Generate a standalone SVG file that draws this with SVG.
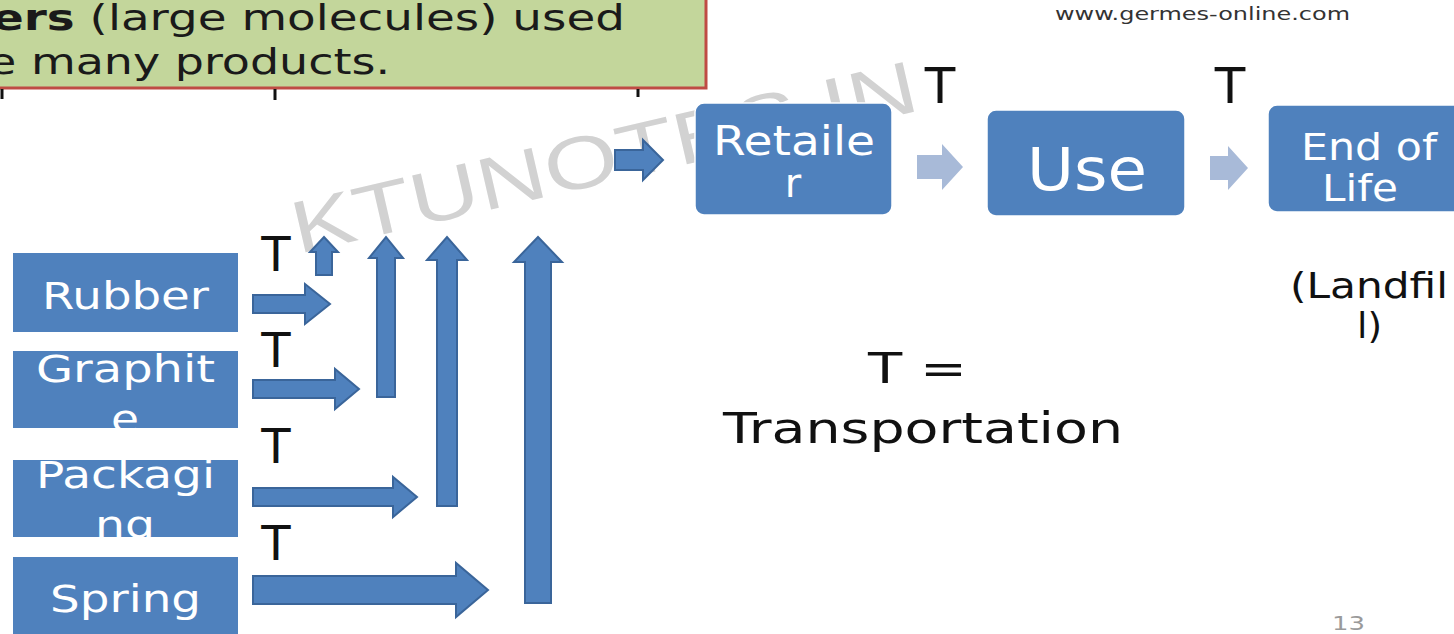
<svg xmlns="http://www.w3.org/2000/svg" width="1454" height="634" viewBox="0 0 1454 634">
<style>
.t{font-family:"DejaVu Sans","Liberation Sans",sans-serif}
.w{fill:#ffffff}
.k{fill:#111111}
.box{fill:#4f81bd}
.sbox{fill:#4f81bd;stroke:#ffffff;stroke-width:1.5}
.arr{fill:#4f81bd;stroke:#3a659a;stroke-width:2;stroke-linejoin:miter}
.larr{fill:#a8bad8}
.tick{stroke:#111111;stroke-width:3}
</style>
<rect width="1454" height="634" fill="#ffffff"/>
<g id="watermark">
<text x="0" y="0" font-family="'Liberation Sans',sans-serif" font-size="74" fill="#d2d2d2" textLength="640" lengthAdjust="spacingAndGlyphs" transform="translate(298 254) rotate(-13)">KTUNOTES.IN</text>
</g>
<g id="header">
<rect x="-6" y="-6" width="712" height="94" fill="#c3d69b" stroke="#bf4b44" stroke-width="3"/>
<text class="t" x="-8" y="30" font-size="36" fill="#1a1a1a" textLength="633" lengthAdjust="spacingAndGlyphs"><tspan font-weight="bold">ers</tspan> (large molecules) used</text>
<text class="t" x="-12" y="74" font-size="36" fill="#1a1a1a" textLength="402" lengthAdjust="spacingAndGlyphs">e many products.</text>
<line class="tick" x1="2" y1="89" x2="2" y2="99"/>
<line class="tick" x1="275" y1="89" x2="275" y2="100"/>
<line class="tick" x1="638" y1="89" x2="638" y2="97"/>
</g>
<text class="t" x="1055" y="20" font-size="18" fill="#333333" textLength="295" lengthAdjust="spacingAndGlyphs">www.germes-online.com</text>
<g id="connectors">
<path class="arr" d="M253,295 L305,295 L305,284 L330,304 L305,324 L305,313 L253,313 Z"/>
<path class="arr" d="M253,380 L335,380 L335,369 L359,389 L335,409 L335,398 L253,398 Z"/>
<path class="arr" d="M253,488 L393,488 L393,477 L417,497 L393,517 L393,506 L253,506 Z"/>
<path class="arr" d="M253,576 L456,576 L456,563 L488,590 L456,617 L456,604 L253,604 Z"/>
<path class="arr" d="M316,275 L316,252 L310,252 L324,237 L338,252 L332,252 L332,275 Z"/>
<path class="arr" d="M377,397 L377,258 L369,258 L386,237 L403,258 L395,258 L395,397 Z"/>
<path class="arr" d="M437,506 L437,260 L427,260 L447,237 L467,260 L457,260 L457,506 Z"/>
<path class="arr" d="M525,603 L525,262 L514,262 L538,237 L562,262 L551,262 L551,603 Z"/>
<path class="arr" d="M615,150 L643,150 L643,140 L663,160 L643,180 L643,170 L615,170 Z"/>
<path class="larr" d="M917,155 L942,155 L942,144 L963,167 L942,190 L942,179 L917,179 Z"/>
<path class="larr" d="M1210,156 L1228,156 L1228,146 L1248,168 L1228,190 L1228,180 L1210,180 Z"/>
</g>
<g id="t-labels" class="t k">
<text x="276" y="271" font-size="48" text-anchor="middle">T</text>
<text x="276" y="367" font-size="48" text-anchor="middle">T</text>
<text x="276" y="463" font-size="48" text-anchor="middle">T</text>
<text x="276" y="560" font-size="48" text-anchor="middle">T</text>
<text x="940" y="103" font-size="50" text-anchor="middle">T</text>
<text x="1230" y="103" font-size="50" text-anchor="middle">T</text>
</g>
<g id="rubber">
<rect class="box" x="13" y="253" width="225" height="79"/>
<text class="t w" x="42" y="309" font-size="37" textLength="167" lengthAdjust="spacingAndGlyphs">Rubber</text>
</g>
<g id="graphite">
<rect class="box" x="13" y="351" width="225" height="77"/>
<text class="t w" x="36" y="382" font-size="37" textLength="179" lengthAdjust="spacingAndGlyphs">Graphit</text>
<text class="t w" x="111" y="432" font-size="37" textLength="28" lengthAdjust="spacingAndGlyphs">e</text>
</g>
<g id="packaging">
<rect class="box" x="13" y="460" width="225" height="77"/>
<text class="t w" x="36" y="488" font-size="37" textLength="179" lengthAdjust="spacingAndGlyphs">Packagi</text>
<text class="t w" x="95" y="538" font-size="37" textLength="60" lengthAdjust="spacingAndGlyphs">ng</text>
</g>
<g id="spring">
<rect class="box" x="13" y="557" width="225" height="80"/>
<text class="t w" x="50" y="612" font-size="37" textLength="151" lengthAdjust="spacingAndGlyphs">Spring</text>
</g>
<g id="retailer">
<rect class="sbox" x="695" y="103" width="197" height="112" rx="9"/>
<text class="t w" x="713" y="155" font-size="40" textLength="162" lengthAdjust="spacingAndGlyphs">Retaile</text>
<text class="t w" x="793" y="197" font-size="40" text-anchor="middle">r</text>
</g>
<g id="use">
<rect class="sbox" x="987" y="110" width="198" height="106" rx="9"/>
<text class="t w" x="1027" y="190" font-size="58" textLength="120" lengthAdjust="spacingAndGlyphs">Use</text>
</g>
<g id="endoflife">
<rect class="sbox" x="1268" y="105" width="200" height="107" rx="9"/>
<text class="t w" x="1301" y="160" font-size="38" textLength="136" lengthAdjust="spacingAndGlyphs">End of</text>
<text class="t w" x="1322" y="201" font-size="38" textLength="76" lengthAdjust="spacingAndGlyphs">Life</text>
</g>
<g id="landfill" class="t k">
<text x="1290" y="298" font-size="35" textLength="158" lengthAdjust="spacingAndGlyphs">(Landfil</text>
<text x="1357" y="338" font-size="35" textLength="25" lengthAdjust="spacingAndGlyphs">l)</text>
</g>
<g id="legend" class="t k">
<text x="868" y="383" font-size="43" textLength="99" lengthAdjust="spacingAndGlyphs">T =</text>
<text x="723" y="443" font-size="42" textLength="400" lengthAdjust="spacingAndGlyphs">Transportation</text>
</g>
<text class="t" x="1332" y="630" font-size="20" fill="#9a9a9a" textLength="33" lengthAdjust="spacingAndGlyphs">13</text>
</svg>
